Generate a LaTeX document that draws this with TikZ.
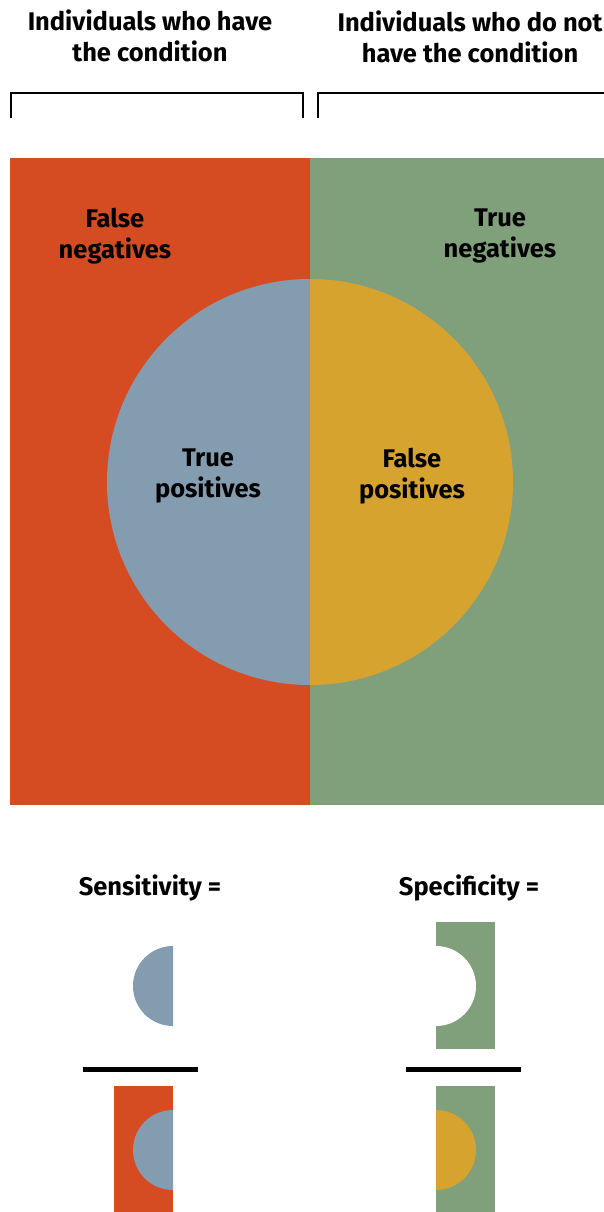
\documentclass[tikz,border=0pt]{standalone}
\usepackage{fontspec}
\setmainfont{Fira Sans}
\definecolor{fnred}{HTML}{D64C22}
\definecolor{tngreen}{HTML}{7FA07A}
\definecolor{tpblue}{HTML}{849CB0}
\definecolor{fpyellow}{HTML}{D7A32F}
\begin{document}
\begin{tikzpicture}[x=1pt, y=-1pt,
    lbl/.style={font=\bfseries\fontsize{25.5}{31.5}\selectfont, align=center, inner sep=0pt},
    bracket/.style={line width=2.5pt}]
	\useasboundingbox [fill=white] (0, 0) rectangle (604, 1212);
	% headings and brackets
	\node [lbl] (lhave) at (150, 36) {Individuals who have\\the condition};
	\node [lbl] (lnot)  at (470, 37) {Individuals who do not\\have the condition};
	\draw [bracket] (11, 118) |- (303, 93) -- (303, 118);
	\draw [bracket] (318, 118) |- (604, 93);
	% the population
	\fill [fnred]   (10, 158)  rectangle (310, 805);
	\fill [tngreen] (310, 158) rectangle (604, 805);
	\fill [tpblue] (310, 482) circle [radius=203];
	\begin{scope}
	  \clip (310, 0) rectangle (604, 1212);
	  \fill [fpyellow] (310, 482) circle [radius=203];
	\end{scope}
	\node [lbl] (fneg) at (115, 236) {False\\negatives};
	\node [lbl] (tneg) at (500, 236) {True\\negatives};
	\node [lbl] (tpos) at (208, 476) {True\\positives};
	\node [lbl] (fpos) at (412, 476) {False\\positives};
	% the two ratios
	\node [lbl] (sens) at (150, 888) {Sensitivity =};
	\node [lbl] (spec) at (469, 888) {Specificity =};
	\fill [fnred]   (114, 1086) rectangle (173, 1212);
	\fill [tngreen] (436, 922)  rectangle (495, 1049);
	\fill [tngreen] (436, 1086) rectangle (495, 1212);
	\begin{scope}
	  \clip (0, 0) rectangle (173, 1212);
	  \foreach \y in {986, 1150} \fill [tpblue] (173, \y) circle [radius=40];
	\end{scope}
	\begin{scope}
	  \clip (436, 0) rectangle (604, 1212);
	  \fill [white] (436, 986) circle [radius=40];
	  \fill [fpyellow] (436, 1150) circle [radius=40];
	\end{scope}
	\draw [line width=5pt] (83, 1069) -- (198, 1069) (406, 1069) -- (521, 1069);
\end{tikzpicture}
\end{document}
